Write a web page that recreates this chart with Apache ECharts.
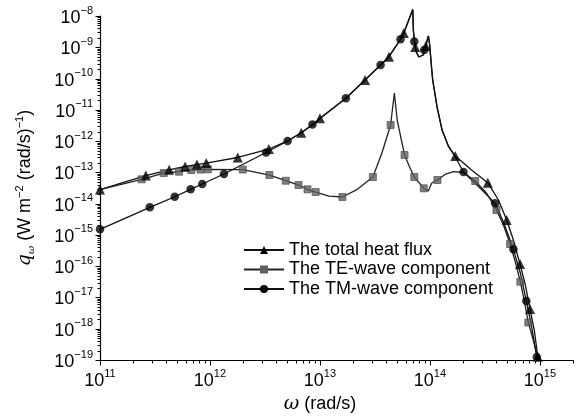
<!DOCTYPE html>
<html><head><meta charset="utf-8">
<script src="https://cdn.jsdelivr.net/npm/echarts@6/dist/echarts.min.js"></script>
<style>html,body{margin:0;padding:0;background:#fff}#c{width:581px;height:419px}</style>
</head><body><div id="c"></div>
<script>
const seriesNames = ['The total heat flux', 'The TE-wave component', 'The TM-wave component'];

// total heat flux: curve points and marker points [omega (rad/s), q]
const totalCurve = [
  [1.0e11, 2.83e-14], [2.61e11, 7.93e-14], [4.26e11, 1.21e-13], [5.94e11, 1.54e-13],
  [7.61e11, 1.78e-13], [9.25e11, 1.99e-13], [1.79e12, 2.99e-13], [3.43e12, 5.58e-13],
  [5.08e12, 1.01e-12], [6.76e12, 1.85e-12], [8.85e12, 3.52e-12], [1.00e13, 5.35e-12],
  [1.72e13, 2.33e-11], [2.57e13, 8.98e-11], [3.56e13, 2.71e-10], [4.24e13, 4.99e-10],
  [5.40e13, 1.80e-9], [5.79e13, 2.86e-9], [6.98e13, 1.61e-8], [7.07e13, 3.57e-9],
  [7.28e13, 1.27e-9], [7.52e13, 7.06e-10], [7.93e13, 4.89e-10], [8.26e13, 4.43e-10],
  [8.69e13, 5.66e-10], [9.06e13, 9.48e-10], [9.46e13, 1.71e-9], [9.69e13, 2.29e-9],
  [9.95e13, 1.18e-9], [1.03e14, 2.71e-10], [1.06e14, 8.98e-11], [1.16e14, 1.26e-11],
  [1.29e14, 2.26e-12], [1.48e14, 6.61e-13], [1.70e14, 3.34e-13], [2.02e14, 1.99e-13],
  [2.39e14, 1.19e-13], [3.36e14, 4.67e-14], [4.20e14, 1.31e-14], [4.99e14, 2.99e-15],
  [5.74e14, 6.87e-16], [6.60e14, 1.17e-16], [7.38e14, 2.49e-17], [8.13e14, 4.27e-18],
  [8.89e14, 9.08e-19], [9.57e14, 1.27e-19], [9.78e14, 1.0e-19]
];
const totalMarks = [
  [1.0e11, 2.83e-14], [2.61e11, 7.93e-14], [4.26e11, 1.21e-13], [5.94e11, 1.54e-13],
  [7.61e11, 1.78e-13], [9.25e11, 1.99e-13], [1.79e12, 2.99e-13], [3.43e12, 5.58e-13],
  [6.76e12, 1.85e-12], [1.00e13, 5.35e-12], [2.57e13, 8.98e-11], [4.24e13, 4.99e-10],
  [5.79e13, 2.86e-9], [7.36e13, 1.02e-9], [9.17e13, 1.10e-9], [1.70e14, 3.34e-13],
  [3.36e14, 4.67e-14], [4.99e14, 2.99e-15], [6.60e14, 1.17e-16], [8.13e14, 4.27e-18],
  [9.57e14, 1.27e-19]
];

// TE-wave component
const teCurve = [
  [1.0e11, 2.83e-14], [2.39e11, 6.00e-14], [3.80e11, 9.53e-14], [5.23e11, 1.05e-13],
  [6.76e11, 1.19e-13], [8.22e11, 1.23e-13], [9.57e11, 1.25e-13], [1.99e12, 1.23e-13],
  [3.47e12, 8.22e-14], [4.89e12, 5.40e-14], [6.39e12, 3.94e-14], [7.71e12, 2.87e-14],
  [9.14e12, 2.35e-14], [1.21e13, 1.75e-14], [1.60e13, 1.63e-14], [2.19e13, 2.87e-14],
  [3.03e13, 7.10e-14], [3.66e13, 4.16e-13], [4.39e13, 3.27e-12], [4.75e13, 3.45e-11],
  [5.04e13, 4.72e-12], [5.88e13, 3.59e-13], [6.52e13, 1.52e-13], [7.21e13, 7.10e-14],
  [8.79e13, 3.09e-14], [9.66e13, 2.53e-14], [1.04e14, 4.56e-14], [1.17e14, 5.69e-14],
  [1.39e14, 8.85e-14], [1.64e14, 1.05e-13], [2.02e14, 9.89e-14], [2.58e14, 5.28e-14],
  [3.27e14, 2.19e-14], [4.03e14, 6.25e-15], [4.66e14, 2.07e-15], [5.36e14, 5.12e-16],
  [5.98e14, 1.36e-16], [6.64e14, 3.18e-17], [7.22e14, 7.69e-18], [7.85e14, 1.58e-18],
  [8.71e14, 4.35e-19], [9.68e14, 1.0e-19]
];
const teMarks = [
  [2.39e11, 6.00e-14], [3.80e11, 9.53e-14], [5.23e11, 1.05e-13], [6.76e11, 1.19e-13],
  [8.22e11, 1.23e-13], [9.57e11, 1.25e-13], [1.99e12, 1.23e-13], [3.47e12, 8.22e-14],
  [4.89e12, 5.40e-14], [6.39e12, 3.94e-14], [7.71e12, 2.87e-14], [9.14e12, 2.35e-14],
  [1.60e13, 1.63e-14], [3.03e13, 7.10e-14], [4.39e13, 3.27e-12], [5.88e13, 3.59e-13],
  [7.21e13, 7.10e-14], [8.79e13, 3.09e-14], [1.17e14, 5.69e-14], [2.58e14, 5.28e-14],
  [4.03e14, 6.25e-15], [5.36e14, 5.12e-16], [6.64e14, 3.18e-17], [7.85e14, 1.58e-18]
];

// TM-wave component
const tmCurve = [
  [1.0e11, 1.51e-15], [2.84e11, 7.62e-15], [4.78e11, 1.66e-14], [6.67e11, 2.87e-14],
  [8.51e11, 4.24e-14], [1.34e12, 8.85e-14], [3.24e12, 4.31e-13], [5.08e12, 1.01e-12],
  [6.70e12, 1.81e-12], [8.55e12, 3.39e-12], [1.72e13, 2.33e-11], [2.57e13, 8.98e-11],
  [3.56e13, 2.71e-10], [4.24e13, 4.99e-10], [5.40e13, 1.80e-9], [5.79e13, 2.86e-9],
  [6.98e13, 1.61e-8], [7.07e13, 3.57e-9], [7.28e13, 1.27e-9], [7.52e13, 7.06e-10],
  [7.93e13, 4.89e-10], [8.26e13, 4.43e-10], [8.69e13, 5.66e-10], [9.06e13, 9.48e-10],
  [9.46e13, 1.71e-9], [9.69e13, 2.29e-9], [9.95e13, 1.18e-9], [1.03e14, 2.71e-10],
  [1.06e14, 8.98e-11], [1.16e14, 1.26e-11], [1.29e14, 2.26e-12], [1.48e14, 6.61e-13],
  [1.70e14, 3.10e-13], [2.02e14, 1.03e-13], [2.77e14, 3.52e-14], [3.92e14, 1.02e-14],
  [4.66e14, 2.58e-15], [5.74e14, 3.46e-16], [6.64e14, 6.04e-17], [7.53e14, 7.69e-18],
  [8.36e14, 1.31e-18], [9.37e14, 1.24e-19], [9.57e14, 1.0e-19]
];
const tmMarks = [
  [1.0e11, 1.51e-15], [2.84e11, 7.62e-15], [4.78e11, 1.66e-14], [6.67e11, 2.87e-14],
  [8.51e11, 4.24e-14], [1.34e12, 8.85e-14], [3.24e12, 4.31e-13], [5.08e12, 1.01e-12],
  [8.55e12, 3.39e-12], [1.72e13, 2.33e-11], [3.56e13, 2.71e-10], [5.40e13, 1.80e-9],
  [7.21e13, 1.53e-9], [8.87e13, 8.18e-10], [2.02e14, 1.03e-13], [3.92e14, 1.02e-14],
  [5.74e14, 3.46e-16], [7.53e14, 7.69e-18], [9.37e14, 1.24e-19]
];

// axes
const xMin = 1e11, xMax = 2e15, yMin = 1e-19, yMax = 1e-8;
const xDecades = [1e11, 1e12, 1e13, 1e14, 1e15];
const yDecades = [1e-19, 1e-18, 1e-17, 1e-16, 1e-15, 1e-14, 1e-13, 1e-12, 1e-11, 1e-10, 1e-9, 1e-8];
const xTickExponents = ['11', '12', '13', '14', '15'];
const yTickExponents = ['\u221219', '\u221218', '\u221217', '\u221216', '\u221215', '\u221214', '\u221213', '\u221212', '\u221211', '\u221210', '\u22129', '\u22128'];
const minorMultipliers = [2, 3, 4, 5, 6, 7, 8, 9];

const xMinor = [];
xDecades.forEach(d => minorMultipliers.forEach(m => { const v = d * m; if (v <= xMax * 1.0001) xMinor.push(v); }));
const yMinor = [];
yDecades.forEach(d => minorMultipliers.forEach(m => { const v = d * m; if (v <= yMax * 1.0001) yMinor.push(v); }));

const FONT = 'Liberation Sans, Arial, sans-serif';
const BLACK = '#000';

function expLabel(exps, decades) {
  return function (v) {
    const l = Math.log10(v);
    const r = Math.round(l);
    if (Math.abs(l - r) > 0.01) return '';
    const i = decades.findIndex(d => Math.abs(Math.log10(d) - r) < 0.01);
    if (i < 0) return '';
    return '{b|10}{s|' + exps[i] + '}';
  };
}
const labelRich = {
  b: { fontSize: 18, fontFamily: FONT, color: BLACK, lineHeight: 22, verticalAlign: 'bottom' },
  s: { fontSize: 11, fontFamily: FONT, color: BLACK, lineHeight: 12, verticalAlign: 'top' }
};

function tickSeries(values, axis, len) {
  return {
    type: 'custom', silent: true, clip: false, z: 6, animation: false,
    data: values.map(v => axis === 'x' ? [v, yMin] : [xMin, v]),
    renderItem: function (params, api) {
      const p = api.coord([api.value(0), api.value(1)]);
      const x = Math.round(p[0]) + 0.5, y = Math.round(p[1]) + 0.5;
      const shape = axis === 'x'
        ? { x1: x, y1: y, x2: x, y2: y + len }
        : { x1: x - len, y1: y, x2: x, y2: y };
      return { type: 'line', shape: shape, style: { stroke: BLACK, lineWidth: 1 } };
    }
  };
}

function curveSeries(name, data, symbol, lineColor, itemColor, size) {
  return {
    name: name, type: 'line', data: data, symbol: symbol, symbolSize: size, showSymbol: false,
    clip: false, smooth: false, animation: false, z: 3,
    lineStyle: { color: lineColor, width: 1.3 },
    itemStyle: { color: itemColor }
  };
}
function markSeries(data, symbol, color, border, size, z) {
  return {
    type: 'scatter', data: data, symbol: symbol, symbolSize: size, clip: false, animation: false, z: z,
    itemStyle: { color: color, borderColor: border, borderWidth: border ? 0.8 : 0 }
  };
}

const chart = echarts.init(document.getElementById('c'), null, { renderer: 'canvas' });
chart.setOption({
  backgroundColor: '#fff',
  animation: false,
  grid: { left: 100, top: 16, right: 8, bottom: 59, containLabel: false },
  xAxis: {
    type: 'log', min: xMin, max: xMax, logBase: 10, interval: 1,
    axisLine: { show: true, lineStyle: { color: BLACK, width: 1.2 } },
    axisTick: { show: false }, minorTick: { show: false },
    splitLine: { show: false },
    axisLabel: { formatter: expLabel(xTickExponents, xDecades), rich: labelRich, margin: 8, showMaxLabel: false },
    name: '{w|\u03c9} (rad/s)', nameLocation: 'middle', nameGap: 34,
    nameTextStyle: {
      fontSize: 18, fontFamily: FONT, color: BLACK, padding: [0, 33, 0, 0],
      rich: { w: { fontSize: 19, fontStyle: 'italic', fontFamily: 'DejaVu Serif, serif', color: BLACK } }
    }
  },
  yAxis: {
    type: 'log', min: yMin, max: yMax, logBase: 10, interval: 1,
    axisLine: { show: true, lineStyle: { color: BLACK, width: 1.2 } },
    axisTick: { show: false }, minorTick: { show: false },
    splitLine: { show: false },
    axisLabel: { formatter: expLabel(yTickExponents, yDecades), rich: labelRich, margin: 7 },
    name: '{q|q}{o|\u03c9} (W m{s|\u22122} (rad/s){s|\u22121})', nameLocation: 'middle', nameGap: 64,
    nameTextStyle: {
      fontSize: 18, fontFamily: FONT, color: BLACK,
      rich: {
        q: { fontSize: 19, fontStyle: 'italic', fontFamily: 'DejaVu Serif, serif', color: BLACK, lineHeight: 22, verticalAlign: 'middle' },
        o: { fontSize: 10, fontStyle: 'italic', fontFamily: 'DejaVu Serif, serif', color: BLACK, verticalAlign: 'bottom', lineHeight: 10 },
        s: { fontSize: 11, fontFamily: FONT, color: BLACK, verticalAlign: 'top', lineHeight: 11 }
      }
    }
  },
  legend: {
    orient: 'vertical', left: 238, top: 236, itemWidth: 40, itemHeight: 10, itemGap: 1.5,
    data: seriesNames,
    textStyle: { fontFamily: FONT, fontSize: 18, lineHeight: 17, color: BLACK }
  },
  series: [
    curveSeries(seriesNames[0], totalCurve, 'triangle', '#111', BLACK, 10),
    curveSeries(seriesNames[1], teCurve, 'rect', '#222', '#606060', 7),
    curveSeries(seriesNames[2], tmCurve, 'circle', '#111', BLACK, 8),
    markSeries(teMarks, 'rect', '#606060', '#444', 7, 4),
    markSeries(totalMarks, 'triangle', BLACK, null, 10, 5),
    markSeries(tmMarks, 'circle', BLACK, null, 8.5, 5),
    tickSeries(xDecades, 'x', 5),
    tickSeries(xMinor, 'x', 3),
    tickSeries(yDecades, 'y', 5),
    tickSeries(yMinor, 'y', 3)
  ]
});
</script></body></html>
